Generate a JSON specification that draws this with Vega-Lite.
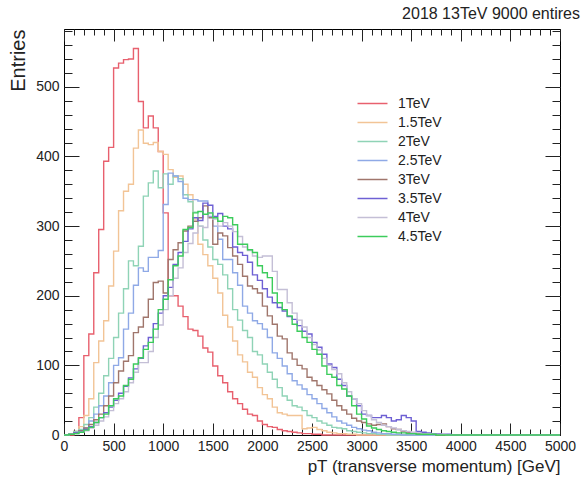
{
"$schema":"https://vega.github.io/schema/vega-lite/v6.json",
"width":496,"height":406,
"autosize":{"type":"none"},
"padding":{"left":64,"top":29,"right":27,"bottom":42},
"background":"white",
"config":{"view":{"stroke":"black","strokeWidth":1},"font":"Liberation Sans"},
"title":{"text":"2018 13TeV 9000 entires","anchor":"end","frame":"group","fontSize":16,"fontWeight":"normal","dx":20,"dy":14,"offset":8,"color":"#222","baseline":"alphabetic"},
"data":{"values":[
{"x":0,"1TeV":0,"1_5TeV":0,"2TeV":0,"2_5TeV":0,"3TeV":0,"3_5TeV":0,"4TeV":0,"4_5TeV":0},
{"x":50,"1TeV":0,"1_5TeV":1,"2TeV":2,"2_5TeV":1,"3TeV":1,"3_5TeV":1,"4TeV":1,"4_5TeV":1},
{"x":100,"1TeV":5,"1_5TeV":4,"2TeV":5,"2_5TeV":3,"3TeV":3,"3_5TeV":3,"4TeV":2,"4_5TeV":2},
{"x":150,"1TeV":25,"1_5TeV":12,"2TeV":8,"2_5TeV":6,"3TeV":6,"3_5TeV":5,"4TeV":4,"4_5TeV":4},
{"x":200,"1TeV":114,"1_5TeV":28,"2TeV":15,"2_5TeV":10,"3TeV":10,"3_5TeV":8,"4TeV":6,"4_5TeV":7},
{"x":250,"1TeV":145,"1_5TeV":52,"2TeV":25,"2_5TeV":20,"3TeV":15,"3_5TeV":12,"4TeV":10,"4_5TeV":11},
{"x":300,"1TeV":233,"1_5TeV":104,"2TeV":40,"2_5TeV":30,"3TeV":22,"3_5TeV":18,"4TeV":14,"4_5TeV":18},
{"x":350,"1TeV":295,"1_5TeV":135,"2TeV":60,"2_5TeV":42,"3TeV":30,"3_5TeV":25,"4TeV":20,"4_5TeV":25},
{"x":400,"1TeV":393,"1_5TeV":164,"2TeV":85,"2_5TeV":56,"3TeV":42,"3_5TeV":32,"4TeV":26,"4_5TeV":30},
{"x":450,"1TeV":413,"1_5TeV":214,"2TeV":110,"2_5TeV":75,"3TeV":56,"3_5TeV":40,"4TeV":35,"4_5TeV":42},
{"x":500,"1TeV":527,"1_5TeV":264,"2TeV":140,"2_5TeV":100,"3TeV":75,"3_5TeV":50,"4TeV":45,"4_5TeV":52},
{"x":550,"1TeV":534,"1_5TeV":322,"2TeV":175,"2_5TeV":111,"3TeV":92,"3_5TeV":60,"4TeV":52,"4_5TeV":56},
{"x":600,"1TeV":539,"1_5TeV":350,"2TeV":210,"2_5TeV":152,"3TeV":106,"3_5TeV":70,"4TeV":62,"4_5TeV":71},
{"x":650,"1TeV":540,"1_5TeV":360,"2TeV":250,"2_5TeV":175,"3TeV":114,"3_5TeV":82,"4TeV":75,"4_5TeV":80},
{"x":700,"1TeV":555,"1_5TeV":412,"2TeV":243,"2_5TeV":215,"3TeV":147,"3_5TeV":95,"4TeV":90,"4_5TeV":102},
{"x":750,"1TeV":479,"1_5TeV":438,"2TeV":271,"2_5TeV":240,"3TeV":155,"3_5TeV":110,"4TeV":104,"4_5TeV":111},
{"x":800,"1TeV":441,"1_5TeV":419,"2TeV":343,"2_5TeV":235,"3TeV":169,"3_5TeV":128,"4TeV":104,"4_5TeV":123},
{"x":850,"1TeV":458,"1_5TeV":417,"2TeV":362,"2_5TeV":255,"3TeV":195,"3_5TeV":140,"4TeV":120,"4_5TeV":133},
{"x":900,"1TeV":441,"1_5TeV":420,"2TeV":379,"2_5TeV":255,"3TeV":219,"3_5TeV":160,"4TeV":140,"4_5TeV":152},
{"x":950,"1TeV":407,"1_5TeV":407,"2TeV":355,"2_5TeV":265,"3TeV":221,"3_5TeV":175,"4TeV":158,"4_5TeV":180},
{"x":1000,"1TeV":319,"1_5TeV":403,"2TeV":375,"2_5TeV":331,"3TeV":204,"3_5TeV":200,"4TeV":180,"4_5TeV":195},
{"x":1050,"1TeV":200,"1_5TeV":381,"2TeV":360,"2_5TeV":376,"3TeV":252,"3_5TeV":212,"4TeV":200,"4_5TeV":223},
{"x":1100,"1TeV":200,"1_5TeV":370,"2TeV":372,"2_5TeV":372,"3TeV":266,"3_5TeV":245,"4TeV":225,"4_5TeV":243},
{"x":1150,"1TeV":185,"1_5TeV":372,"2TeV":368,"2_5TeV":364,"3TeV":276,"3_5TeV":262,"4TeV":240,"4_5TeV":257},
{"x":1200,"1TeV":170,"1_5TeV":360,"2TeV":345,"2_5TeV":340,"3TeV":293,"3_5TeV":278,"4TeV":262,"4_5TeV":295},
{"x":1250,"1TeV":152,"1_5TeV":345,"2TeV":335,"2_5TeV":338,"3TeV":300,"3_5TeV":296,"4TeV":275,"4_5TeV":298},
{"x":1300,"1TeV":150,"1_5TeV":310,"2TeV":320,"2_5TeV":338,"3TeV":307,"3_5TeV":312,"4TeV":290,"4_5TeV":319},
{"x":1350,"1TeV":142,"1_5TeV":274,"2TeV":300,"2_5TeV":336,"3TeV":312,"3_5TeV":308,"4TeV":300,"4_5TeV":321},
{"x":1400,"1TeV":125,"1_5TeV":259,"2TeV":280,"2_5TeV":336,"3TeV":329,"3_5TeV":333,"4TeV":298,"4_5TeV":317},
{"x":1450,"1TeV":119,"1_5TeV":243,"2TeV":270,"2_5TeV":314,"3TeV":312,"3_5TeV":330,"4TeV":318,"4_5TeV":319},
{"x":1500,"1TeV":99,"1_5TeV":225,"2TeV":252,"2_5TeV":300,"3TeV":274,"3_5TeV":314,"4TeV":310,"4_5TeV":312},
{"x":1550,"1TeV":85,"1_5TeV":204,"2TeV":245,"2_5TeV":281,"3TeV":290,"3_5TeV":318,"4TeV":300,"4_5TeV":307},
{"x":1600,"1TeV":75,"1_5TeV":172,"2TeV":230,"2_5TeV":252,"3TeV":286,"3_5TeV":300,"4TeV":305,"4_5TeV":314},
{"x":1650,"1TeV":62,"1_5TeV":155,"2TeV":210,"2_5TeV":252,"3TeV":269,"3_5TeV":296,"4TeV":300,"4_5TeV":312},
{"x":1700,"1TeV":52,"1_5TeV":135,"2TeV":180,"2_5TeV":233,"3TeV":257,"3_5TeV":270,"4TeV":292,"4_5TeV":302},
{"x":1750,"1TeV":45,"1_5TeV":115,"2TeV":165,"2_5TeV":215,"3TeV":245,"3_5TeV":262,"4TeV":285,"4_5TeV":274},
{"x":1800,"1TeV":37,"1_5TeV":105,"2TeV":150,"2_5TeV":185,"3TeV":228,"3_5TeV":258,"4TeV":270,"4_5TeV":274},
{"x":1850,"1TeV":30,"1_5TeV":90,"2TeV":140,"2_5TeV":175,"3TeV":214,"3_5TeV":248,"4TeV":265,"4_5TeV":266},
{"x":1900,"1TeV":28,"1_5TeV":83,"2TeV":120,"2_5TeV":164,"3TeV":210,"3_5TeV":230,"4TeV":257,"4_5TeV":262},
{"x":1950,"1TeV":20,"1_5TeV":68,"2TeV":115,"2_5TeV":160,"3TeV":204,"3_5TeV":222,"4TeV":255,"4_5TeV":243},
{"x":2000,"1TeV":15,"1_5TeV":58,"2TeV":102,"2_5TeV":152,"3TeV":185,"3_5TeV":210,"4TeV":257,"4_5TeV":233},
{"x":2050,"1TeV":12,"1_5TeV":52,"2TeV":90,"2_5TeV":140,"3TeV":171,"3_5TeV":198,"4TeV":257,"4_5TeV":226},
{"x":2100,"1TeV":11,"1_5TeV":40,"2TeV":80,"2_5TeV":118,"3TeV":159,"3_5TeV":190,"4TeV":235,"4_5TeV":204},
{"x":2150,"1TeV":8,"1_5TeV":32,"2TeV":68,"2_5TeV":110,"3TeV":142,"3_5TeV":183,"4TeV":209,"4_5TeV":190},
{"x":2200,"1TeV":6,"1_5TeV":30,"2TeV":56,"2_5TeV":99,"3TeV":138,"3_5TeV":178,"4TeV":209,"4_5TeV":180},
{"x":2250,"1TeV":5,"1_5TeV":28,"2TeV":50,"2_5TeV":88,"3TeV":118,"3_5TeV":170,"4TeV":190,"4_5TeV":171},
{"x":2300,"1TeV":4,"1_5TeV":28,"2TeV":42,"2_5TeV":78,"3TeV":109,"3_5TeV":166,"4TeV":175,"4_5TeV":159},
{"x":2350,"1TeV":3,"1_5TeV":28,"2TeV":40,"2_5TeV":72,"3TeV":100,"3_5TeV":157,"4TeV":165,"4_5TeV":149},
{"x":2400,"1TeV":2,"1_5TeV":9,"2TeV":35,"2_5TeV":66,"3TeV":95,"3_5TeV":149,"4TeV":155,"4_5TeV":140},
{"x":2450,"1TeV":2,"1_5TeV":10,"2TeV":28,"2_5TeV":58,"3TeV":83,"3_5TeV":145,"4TeV":140,"4_5TeV":133},
{"x":2500,"1TeV":1,"1_5TeV":11,"2TeV":25,"2_5TeV":52,"3TeV":78,"3_5TeV":133,"4TeV":130,"4_5TeV":123},
{"x":2550,"1TeV":1,"1_5TeV":8,"2TeV":20,"2_5TeV":45,"3TeV":71,"3_5TeV":126,"4TeV":122,"4_5TeV":116},
{"x":2600,"1TeV":0,"1_5TeV":6,"2TeV":17,"2_5TeV":38,"3TeV":65,"3_5TeV":116,"4TeV":110,"4_5TeV":99},
{"x":2650,"1TeV":0,"1_5TeV":4,"2TeV":14,"2_5TeV":32,"3TeV":59,"3_5TeV":102,"4TeV":100,"4_5TeV":87},
{"x":2700,"1TeV":0,"1_5TeV":3,"2TeV":11,"2_5TeV":26,"3TeV":50,"3_5TeV":97,"4TeV":94,"4_5TeV":83},
{"x":2750,"1TeV":0,"1_5TeV":2,"2TeV":10,"2_5TeV":20,"3TeV":42,"3_5TeV":80,"4TeV":88,"4_5TeV":71},
{"x":2800,"1TeV":0,"1_5TeV":2,"2TeV":9,"2_5TeV":17,"3TeV":36,"3_5TeV":71,"4TeV":75,"4_5TeV":66},
{"x":2850,"1TeV":0,"1_5TeV":1,"2TeV":6,"2_5TeV":14,"3TeV":30,"3_5TeV":56,"4TeV":62,"4_5TeV":56},
{"x":2900,"1TeV":0,"1_5TeV":1,"2TeV":5,"2_5TeV":11,"3TeV":24,"3_5TeV":52,"4TeV":52,"4_5TeV":42},
{"x":2950,"1TeV":0,"1_5TeV":0,"2TeV":4,"2_5TeV":9,"3TeV":20,"3_5TeV":42,"4TeV":45,"4_5TeV":30},
{"x":3000,"1TeV":0,"1_5TeV":0,"2TeV":3,"2_5TeV":7,"3TeV":18,"3_5TeV":30,"4TeV":35,"4_5TeV":23},
{"x":3050,"1TeV":0,"1_5TeV":0,"2TeV":2,"2_5TeV":6,"3TeV":16,"3_5TeV":28,"4TeV":28,"4_5TeV":13},
{"x":3100,"1TeV":0,"1_5TeV":0,"2TeV":2,"2_5TeV":4,"3TeV":14,"3_5TeV":25,"4TeV":22,"4_5TeV":10},
{"x":3150,"1TeV":0,"1_5TeV":0,"2TeV":1,"2_5TeV":3,"3TeV":15,"3_5TeV":25,"4TeV":18,"4_5TeV":8},
{"x":3200,"1TeV":0,"1_5TeV":0,"2TeV":1,"2_5TeV":2,"3TeV":16,"3_5TeV":28,"4TeV":14,"4_5TeV":6},
{"x":3250,"1TeV":0,"1_5TeV":0,"2TeV":0,"2_5TeV":2,"3TeV":12,"3_5TeV":25,"4TeV":12,"4_5TeV":5},
{"x":3300,"1TeV":0,"1_5TeV":0,"2TeV":0,"2_5TeV":1,"3TeV":9,"3_5TeV":20,"4TeV":10,"4_5TeV":4},
{"x":3350,"1TeV":0,"1_5TeV":0,"2TeV":0,"2_5TeV":1,"3TeV":8,"3_5TeV":22,"4TeV":8,"4_5TeV":3},
{"x":3400,"1TeV":0,"1_5TeV":0,"2TeV":0,"2_5TeV":0,"3TeV":5,"3_5TeV":28,"4TeV":6,"4_5TeV":3},
{"x":3450,"1TeV":0,"1_5TeV":0,"2TeV":0,"2_5TeV":0,"3TeV":4,"3_5TeV":25,"4TeV":5,"4_5TeV":2},
{"x":3500,"1TeV":0,"1_5TeV":0,"2TeV":0,"2_5TeV":0,"3TeV":3,"3_5TeV":20,"4TeV":4,"4_5TeV":2},
{"x":3550,"1TeV":0,"1_5TeV":0,"2TeV":0,"2_5TeV":0,"3TeV":2,"3_5TeV":5,"4TeV":3,"4_5TeV":1},
{"x":3600,"1TeV":0,"1_5TeV":0,"2TeV":0,"2_5TeV":0,"3TeV":2,"3_5TeV":4,"4TeV":2,"4_5TeV":1},
{"x":3650,"1TeV":0,"1_5TeV":0,"2TeV":0,"2_5TeV":0,"3TeV":1,"3_5TeV":3,"4TeV":2,"4_5TeV":1},
{"x":3700,"1TeV":0,"1_5TeV":0,"2TeV":0,"2_5TeV":0,"3TeV":1,"3_5TeV":2,"4TeV":1,"4_5TeV":1},
{"x":3750,"1TeV":0,"1_5TeV":0,"2TeV":0,"2_5TeV":0,"3TeV":0,"3_5TeV":2,"4TeV":1,"4_5TeV":0},
{"x":3800,"1TeV":0,"1_5TeV":0,"2TeV":0,"2_5TeV":0,"3TeV":0,"3_5TeV":1,"4TeV":1,"4_5TeV":0},
{"x":3850,"1TeV":0,"1_5TeV":0,"2TeV":0,"2_5TeV":0,"3TeV":0,"3_5TeV":1,"4TeV":0,"4_5TeV":0},
{"x":3900,"1TeV":0,"1_5TeV":0,"2TeV":0,"2_5TeV":0,"3TeV":0,"3_5TeV":0,"4TeV":0,"4_5TeV":0},
{"x":3950,"1TeV":0,"1_5TeV":0,"2TeV":0,"2_5TeV":0,"3TeV":0,"3_5TeV":0,"4TeV":0,"4_5TeV":0},
{"x":4000,"1TeV":0,"1_5TeV":0,"2TeV":0,"2_5TeV":0,"3TeV":0,"3_5TeV":0,"4TeV":0,"4_5TeV":0},
{"x":4050,"1TeV":0,"1_5TeV":0,"2TeV":0,"2_5TeV":0,"3TeV":0,"3_5TeV":0,"4TeV":0,"4_5TeV":0},
{"x":4100,"1TeV":0,"1_5TeV":0,"2TeV":0,"2_5TeV":0,"3TeV":0,"3_5TeV":0,"4TeV":0,"4_5TeV":0},
{"x":4150,"1TeV":0,"1_5TeV":0,"2TeV":0,"2_5TeV":0,"3TeV":0,"3_5TeV":0,"4TeV":0,"4_5TeV":0},
{"x":4200,"1TeV":0,"1_5TeV":0,"2TeV":0,"2_5TeV":0,"3TeV":0,"3_5TeV":0,"4TeV":0,"4_5TeV":0},
{"x":4250,"1TeV":0,"1_5TeV":0,"2TeV":0,"2_5TeV":0,"3TeV":0,"3_5TeV":0,"4TeV":0,"4_5TeV":0},
{"x":4300,"1TeV":0,"1_5TeV":0,"2TeV":0,"2_5TeV":0,"3TeV":0,"3_5TeV":0,"4TeV":0,"4_5TeV":0},
{"x":4350,"1TeV":0,"1_5TeV":0,"2TeV":0,"2_5TeV":0,"3TeV":0,"3_5TeV":0,"4TeV":0,"4_5TeV":0},
{"x":4400,"1TeV":0,"1_5TeV":0,"2TeV":0,"2_5TeV":0,"3TeV":0,"3_5TeV":0,"4TeV":0,"4_5TeV":0},
{"x":4450,"1TeV":0,"1_5TeV":0,"2TeV":0,"2_5TeV":0,"3TeV":0,"3_5TeV":0,"4TeV":0,"4_5TeV":0},
{"x":4500,"1TeV":0,"1_5TeV":0,"2TeV":0,"2_5TeV":0,"3TeV":0,"3_5TeV":0,"4TeV":0,"4_5TeV":0},
{"x":4550,"1TeV":0,"1_5TeV":0,"2TeV":0,"2_5TeV":0,"3TeV":0,"3_5TeV":0,"4TeV":0,"4_5TeV":0},
{"x":4600,"1TeV":0,"1_5TeV":0,"2TeV":0,"2_5TeV":0,"3TeV":0,"3_5TeV":0,"4TeV":0,"4_5TeV":0},
{"x":4650,"1TeV":0,"1_5TeV":0,"2TeV":0,"2_5TeV":0,"3TeV":0,"3_5TeV":0,"4TeV":0,"4_5TeV":0},
{"x":4700,"1TeV":0,"1_5TeV":0,"2TeV":0,"2_5TeV":0,"3TeV":0,"3_5TeV":0,"4TeV":0,"4_5TeV":0},
{"x":4750,"1TeV":0,"1_5TeV":0,"2TeV":0,"2_5TeV":0,"3TeV":0,"3_5TeV":0,"4TeV":0,"4_5TeV":0},
{"x":4800,"1TeV":0,"1_5TeV":0,"2TeV":0,"2_5TeV":0,"3TeV":0,"3_5TeV":0,"4TeV":0,"4_5TeV":0},
{"x":4850,"1TeV":0,"1_5TeV":0,"2TeV":0,"2_5TeV":0,"3TeV":0,"3_5TeV":0,"4TeV":0,"4_5TeV":0},
{"x":4900,"1TeV":0,"1_5TeV":0,"2TeV":0,"2_5TeV":0,"3TeV":0,"3_5TeV":0,"4TeV":0,"4_5TeV":0},
{"x":4950,"1TeV":0,"1_5TeV":0,"2TeV":0,"2_5TeV":0,"3TeV":0,"3_5TeV":0,"4TeV":0,"4_5TeV":0},
{"x":5000,"1TeV":0,"1_5TeV":0,"2TeV":0,"2_5TeV":0,"3TeV":0,"3_5TeV":0,"4TeV":0,"4_5TeV":0}
]},
"transform":[{"fold":["1TeV","1_5TeV","2TeV","2_5TeV","3TeV","3_5TeV","4TeV","4_5TeV"],"as":["s","y"]}],
"layer":[
{"mark":{"type":"line","interpolate":"step-after","strokeWidth":1.4},
 "encoding":{
  "x":{"field":"x","type":"quantitative","scale":{"domain":[0,5000],"nice":false,"zero":false},
   "axis":{"orient":"bottom","values":[0,500,1000,1500,2000,2500,3000,3500,4000,4500,5000],"format":"d","tickSize":-12,"tickColor":"#222","domain":false,"grid":false,"labelFontSize":14,"labelColor":"#222","labelPadding":16,"labelFlush":false,
    "title":"pT (transverse momentum) [GeV]","titleAnchor":"end","titleFontSize":17,"titleFontWeight":"normal","titleColor":"#222","titleBaseline":"alphabetic","titleY":36}},
  "y":{"field":"y","type":"quantitative","scale":{"domain":[0,583],"nice":false},
   "axis":{"orient":"left","values":[0,100,200,300,400,500],"format":"d","tickSize":-15,"tickColor":"#222","domain":false,"grid":false,"labelFontSize":14,"labelColor":"#222","labelPadding":20,
    "title":"Entries","titleAnchor":"end","titleFontSize":20,"titleFontWeight":"normal","titleColor":"#222","titleX":-36,"titleY":0,"titleAngle":270}},
  "color":{"field":"s","type":"nominal",
   "scale":{"domain":["1TeV","1_5TeV","2TeV","2_5TeV","3TeV","3_5TeV","4TeV","4_5TeV"],"range":["#e8606e","#f2c496","#8fd3b6","#8fa9e6","#a0766c","#6e60d4","#c4bfd6","#3ccc5c"]},
   "legend":{"orient":"none","legendX":300,"legendY":66,"title":null,"symbolType":"M-2,0H2","symbolSize":225,"symbolStrokeWidth":1.5,"labelFontSize":14,"labelColor":"#222","labelOffset":17,"rowPadding":3,"labelExpr":"replace(datum.label,'_','.')"}}
 }},
{"mark":{"type":"line","opacity":0},
 "encoding":{
  "x":{"field":"x","type":"quantitative","axis":{"orient":"bottom","values":[0,100,200,300,400,500,600,700,800,900,1000,1100,1200,1300,1400,1500,1600,1700,1800,1900,2000,2100,2200,2300,2400,2500,2600,2700,2800,2900,3000,3100,3200,3300,3400,3500,3600,3700,3800,3900,4000,4100,4200,4300,4400,4500,4600,4700,4800,4900,5000],"tickSize":-6,"tickColor":"#222","labels":false,"domain":false,"grid":false,"title":null}},
  "y":{"field":"y","type":"quantitative","axis":{"orient":"left","values":[0,20,40,60,80,100,120,140,160,180,200,220,240,260,280,300,320,340,360,380,400,420,440,460,480,500,520,540,560,580],"tickSize":-8,"tickColor":"#222","labels":false,"domain":false,"grid":false,"title":null}}
 }},
{"mark":{"type":"line","opacity":0},
 "encoding":{
  "x":{"field":"x","type":"quantitative","axis":{"orient":"top","values":[0,500,1000,1500,2000,2500,3000,3500,4000,4500,5000],"tickSize":-12,"tickColor":"#222","labels":false,"domain":false,"grid":false,"title":null}},
  "y":{"field":"y","type":"quantitative","axis":{"orient":"right","values":[0,100,200,300,400,500],"tickSize":-15,"tickColor":"#222","labels":false,"domain":false,"grid":false,"title":null}}
 }},
{"mark":{"type":"line","opacity":0},
 "encoding":{
  "x":{"field":"x","type":"quantitative","axis":{"orient":"top","values":[0,100,200,300,400,500,600,700,800,900,1000,1100,1200,1300,1400,1500,1600,1700,1800,1900,2000,2100,2200,2300,2400,2500,2600,2700,2800,2900,3000,3100,3200,3300,3400,3500,3600,3700,3800,3900,4000,4100,4200,4300,4400,4500,4600,4700,4800,4900,5000],"tickSize":-6,"tickColor":"#222","labels":false,"domain":false,"grid":false,"title":null}},
  "y":{"field":"y","type":"quantitative","axis":{"orient":"right","values":[0,20,40,60,80,100,120,140,160,180,200,220,240,260,280,300,320,340,360,380,400,420,440,460,480,500,520,540,560,580],"tickSize":-8,"tickColor":"#222","labels":false,"domain":false,"grid":false,"title":null}}
 }}
],
"resolve":{"axis":{"x":"independent","y":"independent"}}
}
